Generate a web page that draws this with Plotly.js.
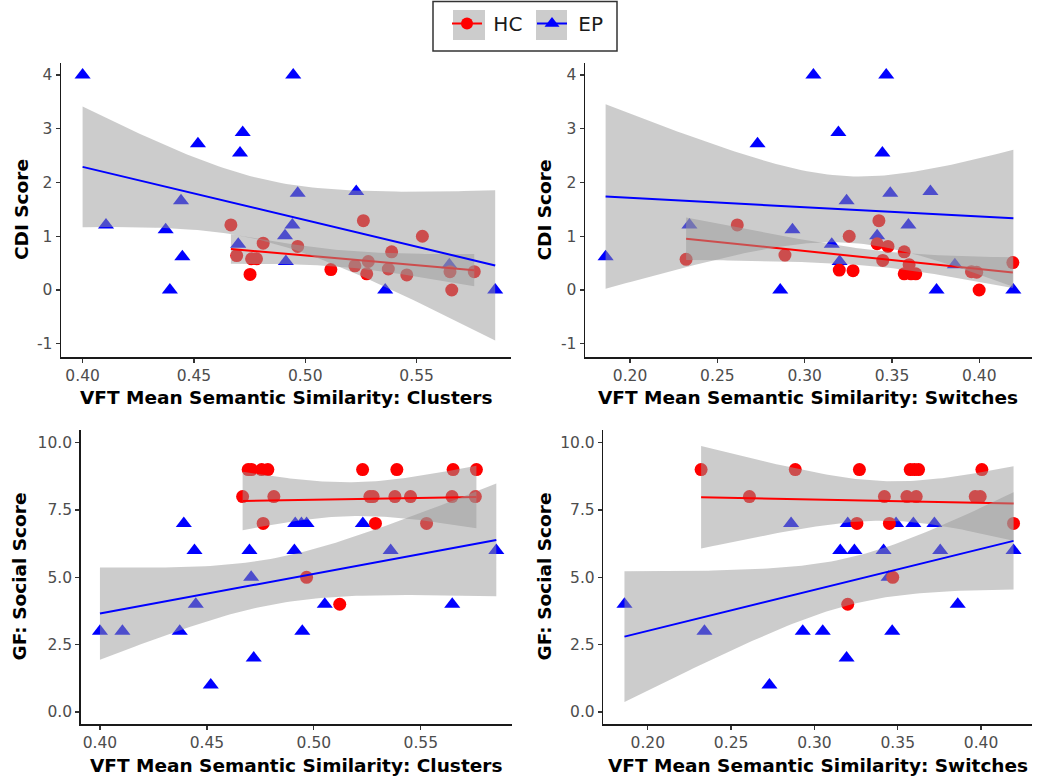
<!DOCTYPE html>
<html><head><meta charset="utf-8">
<script src="https://cdn.plot.ly/plotly-3.0.1.min.js"></script>
<style>html,body{margin:0;padding:0;background:#fff}#chart{width:1050px;height:783px}</style>
</head><body><div id="chart"></div>
<script>
// ---------- DATA ----------
// EP (early psychosis) subjects: cluster similarity, switch similarity, CDI score, GF: Social score
const epClusters = [0.400, 0.4946, 0.4719, 0.4518, 0.4707, 0.4966, 0.5229, 0.4442, 0.4105, 0.4373, 0.4942, 0.4909, 0.4699, 0.4448, 0.4913, 0.4392, 0.5359, 0.5853, 0.5647, 0.5051];
const epSwitches = [0.305, 0.3467, 0.3193, 0.273, 0.3445, 0.349, 0.372, 0.324, 0.234, 0.293, 0.3594, 0.3415, 0.3155, 0.186, 0.320, 0.286, 0.3755, 0.4195, 0.386, null];
const epCdi      = [4.00, 4.00, 2.93, 2.72, 2.55, 1.80, 1.83, 1.66, 1.21, 1.12, 1.21, 1.01, 0.85, 0.62, 0.53, 0.00, 0.00, 0.00, 0.47, null];
const epGf       = [3, 3, 2, 1, 5, 7, 7, 6, 3, 3, 7, 6, 6, 4, 7, 7, 6, 6, 4, 4];

// HC (healthy controls), read per panel
const hcClustersCdiX = [0.4666, 0.5261, 0.5526, 0.4811, 0.4966, 0.5388, 0.4692, 0.4759, 0.4781, 0.5283, 0.5223, 0.5373, 0.5115, 0.5276, 0.5456, 0.4752, 0.5650, 0.5759, 0.5658];
const hcClustersCdiY = [1.21, 1.29, 1.00, 0.87, 0.81, 0.71, 0.64, 0.58, 0.58, 0.53, 0.45, 0.39, 0.38, 0.30, 0.28, 0.29, 0.34, 0.34, 0.00];

const hcSwitchesCdiX = [0.2321, 0.2614, 0.2887, 0.3198, 0.3277, 0.3255, 0.3425, 0.3415, 0.3477, 0.3447, 0.3570, 0.3598, 0.3570, 0.3609, 0.3636, 0.3955, 0.3985, 0.3999, 0.4192];
const hcSwitchesCdiY = [0.57, 1.21, 0.65, 0.37, 0.36, 1.00, 1.29, 0.86, 0.81, 0.55, 0.71, 0.47, 0.30, 0.30, 0.30, 0.34, 0.33, 0.00, 0.51];

const hcClustersGfX = [0.4667, 0.4693, 0.4709, 0.4756, 0.4785, 0.4763, 0.4813, 0.4966, 0.5121, 0.5228, 0.5262, 0.5277, 0.5288, 0.5379, 0.5388, 0.5452, 0.5527, 0.5651, 0.5646, 0.5760, 0.5755];
const hcClustersGfY = [8, 9, 9, 9, 9, 7, 8, 5, 4, 9, 8, 8, 7, 8, 9, 8, 7, 9, 8, 9, 8];

const hcSwitchesGfX = [0.232, 0.261, 0.2885, 0.320, 0.327, 0.3255, 0.342, 0.345, 0.347, 0.3575, 0.360, 0.3625, 0.3555, 0.3611, 0.3965, 0.3995, 0.4005, 0.4195];
const hcSwitchesGfY = [9, 8, 9, 4, 9, 7, 8, 7, 5, 9, 9, 9, 8, 8, 8, 8, 9, 7];

const groupNames = ['HC', 'EP'];
const xTitles = ['VFT Mean Semantic Similarity: Clusters', 'VFT Mean Semantic Similarity: Switches'];
const yTitles = ['CDI Score', 'GF: Social Score'];
const cdiTicks = [-1, 0, 1, 2, 3, 4];
const cdiTickText = ['-1', '0', '1', '2', '3', '4'];
const gfTicks = [0, 2.5, 5, 7.5, 10];
const clusterTicks = [0.40, 0.45, 0.50, 0.55];
const switchTicks = [0.20, 0.25, 0.30, 0.35, 0.40];

// ---------- STYLE ----------
const RED = '#ff0000', BLUE = '#0000ff';
const RIBBON = 'rgba(153,153,153,0.5)';
const FONT = 'DejaVu Sans';

// linear model with 95% confidence band (as geom_smooth(method = "lm"))
function tq975(df) {
  const z = 1.959963985, p = (k) => Math.pow(z, k);
  const g1 = (p(3) + z) / 4;
  const g2 = (5 * p(5) + 16 * p(3) + 3 * z) / 96;
  const g3 = (3 * p(7) + 19 * p(5) + 17 * p(3) - 15 * z) / 384;
  const g4 = (79 * p(9) + 776 * p(7) + 1482 * p(5) - 1920 * p(3) - 945 * z) / 92160;
  return z + g1 / df + g2 / df ** 2 + g3 / df ** 3 + g4 / df ** 4;
}
function lmBand(xa, ya) {
  const xs = [], ys = [];
  xa.forEach((v, i) => { if (v != null && ya[i] != null) { xs.push(v); ys.push(ya[i]); } });
  const n = xs.length;
  const mx = xs.reduce((a, b) => a + b, 0) / n, my = ys.reduce((a, b) => a + b, 0) / n;
  let sxx = 0, sxy = 0;
  xs.forEach((v, i) => { sxx += (v - mx) ** 2; sxy += (v - mx) * (ys[i] - my); });
  const b = sxy / sxx, a = my - b * mx;
  let ss = 0; xs.forEach((v, i) => { ss += (ys[i] - a - b * v) ** 2; });
  const s2 = ss / (n - 2), t = tq975(n - 2);
  const lo = Math.min(...xs), hi = Math.max(...xs);
  const gx = [], fit = [], lower = [], upper = [];
  for (let k = 0; k < 80; k++) {
    const x = lo + (hi - lo) * k / 79;
    const f = a + b * x;
    const se = Math.sqrt(s2 * (1 / n + (x - mx) ** 2 / sxx));
    gx.push(x); fit.push(f); lower.push(f - t * se); upper.push(f + t * se);
  }
  return { gx, fit, lower, upper };
}

const traces = [];
function panel(ax, ay, epX, epY, hcX, hcY) {
  traces.push({ x: epX, y: epY, xaxis: ax, yaxis: ay, type: 'scatter', mode: 'markers', showlegend: false, hoverinfo: 'skip',
    marker: { symbol: 'triangle-up', size: 14, color: BLUE } });
  traces.push({ x: hcX, y: hcY, xaxis: ax, yaxis: ay, type: 'scatter', mode: 'markers', showlegend: false, hoverinfo: 'skip',
    marker: { symbol: 'circle', size: 13, color: RED } });
  [[hcX, hcY, RED], [epX, epY, BLUE]].forEach(([X, Y, col]) => {
    const m = lmBand(X, Y);
    traces.push({ x: m.gx.concat(m.gx.slice().reverse()), y: m.upper.concat(m.lower.slice().reverse()),
      xaxis: ax, yaxis: ay, type: 'scatter', mode: 'lines', fill: 'toself', fillcolor: RIBBON,
      line: { width: 0, color: 'rgba(0,0,0,0)' }, showlegend: false, hoverinfo: 'skip' });
    traces.push({ x: m.gx, y: m.fit, xaxis: ax, yaxis: ay, type: 'scatter', mode: 'lines',
      line: { width: 2, color: col }, showlegend: false, hoverinfo: 'skip' });
  });
}
panel('x', 'y', epClusters, epCdi, hcClustersCdiX, hcClustersCdiY);
panel('x2', 'y2', epSwitches, epCdi, hcSwitchesCdiX, hcSwitchesCdiY);
panel('x3', 'y3', epClusters, epGf, hcClustersGfX, hcClustersGfY);
panel('x4', 'y4', epSwitches, epGf, hcSwitchesGfX, hcSwitchesGfY);

// legend entries
traces.push({ x: [null], y: [null], type: 'scatter', mode: 'lines+markers', name: '\u00a0' + groupNames[0],
  line: { color: RED, width: 2 }, marker: { symbol: 'circle', size: 12, color: RED }, showlegend: true });
traces.push({ x: [null], y: [null], type: 'scatter', mode: 'lines+markers', name: '\u00a0' + groupNames[1],
  line: { color: BLUE, width: 2 }, marker: { symbol: 'triangle-up', size: 13, color: BLUE }, showlegend: true });

const axBase = {
  showline: true, linecolor: '#1a1a1a', linewidth: 1.5, ticks: 'outside', ticklen: 4, tickwidth: 1.2,
  tickcolor: '#333', showgrid: false, zeroline: false, fixedrange: true,
  tickfont: { family: FONT, size: 15.5, color: '#4d4d4d' }
};
const W = 1050, H = 783;
const dx = (a, b) => [a / W, b / W];
const dy = (top, bot) => [1 - bot / H, 1 - top / H];

const layout = {
  width: W, height: H, margin: { l: 0, r: 0, t: 0, b: 0 },
  paper_bgcolor: '#fff', plot_bgcolor: '#fff', hovermode: false,
  xaxis:  Object.assign({}, axBase, { domain: dx(61, 511),     anchor: 'y',  range: [0.3903, 0.5924], tickvals: clusterTicks, tickformat: '.2f' }),
  yaxis:  Object.assign({}, axBase, { domain: dy(63, 357),     anchor: 'x',  range: [-1.247, 4.223], tickvals: cdiTicks, ticktext: cdiTickText }),
  xaxis2: Object.assign({}, axBase, { domain: dx(585, 1031.7), anchor: 'y2', range: [0.1742, 0.4300], tickvals: switchTicks, tickformat: '.2f' }),
  yaxis2: Object.assign({}, axBase, { domain: dy(63, 357),     anchor: 'x2', range: [-1.247, 4.223], tickvals: cdiTicks, ticktext: cdiTickText }),
  xaxis3: Object.assign({}, axBase, { domain: dx(80.7, 511.7), anchor: 'y3', range: [0.3910, 0.5925], tickvals: clusterTicks, tickformat: '.2f' }),
  yaxis3: Object.assign({}, axBase, { domain: dy(430, 724.3),  anchor: 'x3', range: [-0.457, 10.47], tickvals: gfTicks, tickformat: '.1f' }),
  xaxis4: Object.assign({}, axBase, { domain: dx(603.3, 1031.7), anchor: 'y4', range: [0.1733, 0.4304], tickvals: switchTicks, tickformat: '.2f' }),
  yaxis4: Object.assign({}, axBase, { domain: dy(430, 724.3),  anchor: 'x4', range: [-0.457, 10.47], tickvals: gfTicks, tickformat: '.1f' }),
  showlegend: true,
  legend: { orientation: 'h', x: 447 / W, xanchor: 'left', y: 1 - 4 / H, yanchor: 'top', bgcolor: 'rgba(0,0,0,0)',
    borderwidth: 0, font: { family: FONT, size: 20, color: '#1a1a1a' }, itemwidth: 30, entrywidth: 40, traceorder: 'normal' },
  annotations: [],
  shapes: []
};
const titleFont = { family: FONT, size: 18.5, color: '#000' };
[[286, 397, xTitles[0]], [808, 397, xTitles[1]], [296, 765.5, xTitles[0]], [817.5, 765.5, xTitles[1]]].forEach(([px, py, t]) => {
  layout.annotations.push({ xref: 'paper', yref: 'paper', x: px / W, y: 1 - py / H, xanchor: 'center', yanchor: 'middle',
    text: '<b>' + t + '</b>', showarrow: false, font: titleFont });
});
[[21, 210, yTitles[0]], [543.5, 210, yTitles[0]], [18.5, 577, yTitles[1]], [543.5, 577, yTitles[1]]].forEach(([px, py, t]) => {
  layout.annotations.push({ xref: 'paper', yref: 'paper', x: px / W, y: 1 - py / H, xanchor: 'center', yanchor: 'middle',
    text: '<b>' + t + '</b>', showarrow: false, textangle: -90, font: titleFont });
});
// legend frame and grey backgrounds of the legend keys
layout.shapes.push({ type: 'rect', xref: 'paper', yref: 'paper', x0: 433 / W, x1: 617 / W, y0: 1 - 51 / H, y1: 1 - 1.5 / H,
  fillcolor: 'rgba(0,0,0,0)', line: { width: 1.5, color: '#333' }, layer: 'below' });
[[453, 485], [536, 567]].forEach(([a, b]) => {
  layout.shapes.push({ type: 'rect', xref: 'paper', yref: 'paper', x0: a / W, x1: b / W, y0: 1 - 40 / H, y1: 1 - 10 / H,
    fillcolor: 'rgba(153,153,153,0.5)', line: { width: 0 }, layer: 'below' });
});

Plotly.newPlot('chart', traces, layout, { displayModeBar: false, staticPlot: true });
</script>
</body></html>
